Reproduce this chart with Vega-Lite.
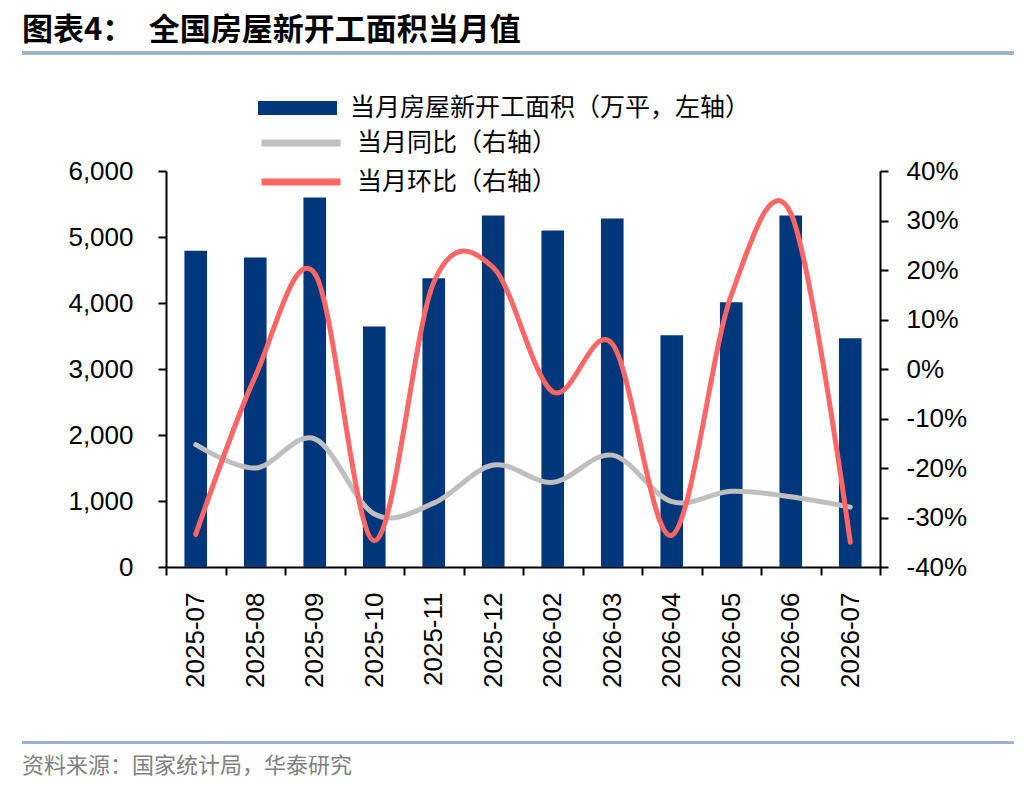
{
  "$schema": "https://vega.github.io/schema/vega-lite/v6.json",
  "padding": {"left": 22, "right": 22, "top": 15, "bottom": 5},
  "background": "white",
  "config": {
    "font": "Noto Sans CJK SC",
    "view": {"stroke": null},
    "axis": {
      "labelFont": "Liberation Sans",
      "labelFontSize": 26,
      "labelColor": "#000000",
      "domainColor": "#000000",
      "domainWidth": 2,
      "tickColor": "#000000",
      "tickWidth": 2,
      "tickSize": 8,
      "grid": false
    },
    "legend": {
      "labelFont": "Noto Sans CJK SC",
      "labelFontSize": 25,
      "labelColor": "#000000",
      "labelLimit": 600,
      "padding": 0,
      "labelOffset": 13
    }
  },
  "datasets": {
    "monthly": [
      {"month": "2025-07", "area": 4790, "yoy": -15.3, "mom": -33.4},
      {"month": "2025-08", "area": 4690, "yoy": -20.0, "mom": -1.5},
      {"month": "2025-09", "area": 5600, "yoy": -14.1, "mom": 19.3},
      {"month": "2025-10", "area": 3645, "yoy": -29.3, "mom": -34.7},
      {"month": "2025-11", "area": 4375, "yoy": -27.1, "mom": 17.5},
      {"month": "2025-12", "area": 5325, "yoy": -19.4, "mom": 20.5},
      {"month": "2026-02", "area": 5100, "yoy": -22.9, "mom": -4.6},
      {"month": "2026-03", "area": 5280, "yoy": -17.4, "mom": 5.1},
      {"month": "2026-04", "area": 3510, "yoy": -26.8, "mom": -33.6},
      {"month": "2026-05", "area": 4010, "yoy": -24.7, "mom": 14.9},
      {"month": "2026-06", "area": 5325, "yoy": -25.8, "mom": 31.5},
      {"month": "2026-07", "area": 3465, "yoy": -27.9, "mom": -35.0}
    ]
  },
  "data": {"name": "monthly"},
  "spacing": 37,
  "resolve": {
    "scale": {"color": "independent", "stroke": "independent"},
    "legend": {"color": "independent", "stroke": "independent"}
  },
  "vconcat": [
    {
      "width": 992,
      "height": 4,
      "view": {"fill": "#9fb4cc", "stroke": null},
      "title": {
        "text": "图表4：\u2002全国房屋新开工面积当月值",
        "anchor": "start",
        "font": "Noto Sans CJK SC",
        "fontSize": 31,
        "fontWeight": "bold",
        "color": "#000000",
        "offset": 0
      },
      "mark": {"type": "text", "text": ""},
      "encoding": {}
    },
    {
      "spacing": 48,
      "resolve": {
        "scale": {"color": "independent", "stroke": "independent"},
        "legend": {"color": "independent", "stroke": "independent"}
      },
      "vconcat": [
        {
          "spacing": 44,
          "resolve": {
            "scale": {"color": "independent", "stroke": "independent"},
            "legend": {"color": "independent", "stroke": "independent"}
          },
          "hconcat": [
            {
              "width": 1,
              "height": 396,
              "mark": {"type": "text", "text": ""},
              "encoding": {}
            },
            {
              "width": 714,
              "height": 396,
              "encoding": {
                "x": {
                  "field": "month",
                  "type": "ordinal",
                  "scale": {"paddingInner": 0, "paddingOuter": 0},
                  "axis": {"title": null, "labelAngle": -90, "tickBand": "extent", "labelPadding": 17}
                }
              },
              "layer": [
                {
                  "mark": {"type": "bar", "width": {"band": 0.38}},
                  "encoding": {
                    "y": {
                      "field": "area",
                      "type": "quantitative",
                      "scale": {"domain": [0, 6000], "nice": false},
                      "axis": {
                        "title": null,
                        "values": [0, 1000, 2000, 3000, 4000, 5000, 6000],
                        "format": ",.0f",
                        "labelPadding": 25
                      }
                    },
                    "color": {
                      "datum": "当月房屋新开工面积（万平，左轴）",
                      "scale": {"range": ["#00377a"]},
                      "legend": {
                        "title": null,
                        "orient": "none",
                        "legendX": 92,
                        "legendY": -76,
                        "symbolType": "M-1,-0.18L1,-0.18L1,0.18L-1,0.18Z",
                        "symbolSize": 6241,
                        "symbolStrokeWidth": 0,
                        "clipHeight": 26
                      }
                    }
                  }
                },
                {
                  "transform": [{"fold": ["yoy", "mom"], "as": ["series", "value"]}],
                  "mark": {"type": "line", "interpolate": "cardinal", "tension": 0, "strokeWidth": 5, "strokeCap": "round"},
                  "encoding": {
                    "y": {
                      "field": "value",
                      "type": "quantitative",
                      "scale": {"domain": [-40, 40], "nice": false},
                      "axis": {
                        "title": null,
                        "orient": "right",
                        "values": [-40, -30, -20, -10, 0, 10, 20, 30, 40],
                        "labelExpr": "datum.value + '%'",
                        "labelPadding": 18
                      }
                    },
                    "stroke": {
                      "field": "series",
                      "type": "nominal",
                      "scale": {"domain": ["yoy", "mom"], "range": ["#bfbfbf", "#ff6666"]},
                      "legend": {
                        "title": null,
                        "orient": "none",
                        "legendX": 92,
                        "legendY": -41,
                        "symbolType": "stroke",
                        "symbolSize": 6241,
                        "symbolStrokeWidth": 7,
                        "clipHeight": 26,
                        "rowPadding": 13,
                        "labelExpr": "datum.label == 'yoy' ? '当月同比（右轴）' : '当月环比（右轴）'"
                      }
                    }
                  }
                }
              ],
              "resolve": {"scale": {"y": "independent"}}
            }
          ]
        },
        {
          "width": 992,
          "height": 3,
          "view": {"fill": "#9fb4cc", "stroke": null},
          "title": {
            "text": "资料来源：国家统计局，华泰研究",
            "orient": "bottom",
            "anchor": "start",
            "font": "Noto Sans CJK SC",
            "fontSize": 22,
            "fontWeight": "normal",
            "color": "#808080",
            "offset": 8
          },
          "mark": {"type": "text", "text": ""},
          "encoding": {}
        }
      ]
    }
  ]
}
